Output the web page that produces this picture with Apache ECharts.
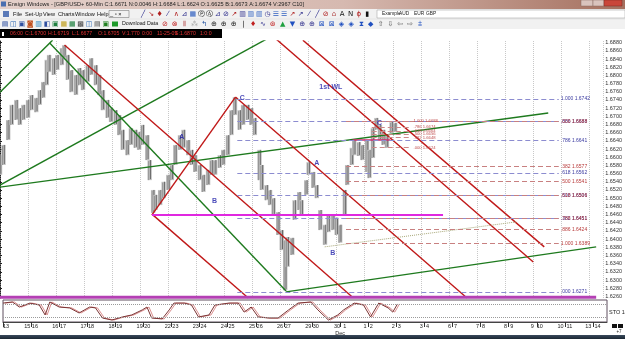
<!DOCTYPE html>
<html><head><meta charset="utf-8">
<script src="https://cdn.jsdelivr.net/npm/echarts@6/dist/echarts.min.js"></script>
<style>html,body{margin:0;padding:0;background:#fff;}#c{width:625px;height:339px;}</style>
</head><body><div id="c"></div>
<script>
// ---------- DATA ----------
// hourly axis: 0 = start of the visible window, 24 hours per trading day
const priceHours = [0,3,7,10,14,17,20,24,27,31,34,37,40,42,46,49,53,55,58,61,65,68,71,75,78,82,85,88,92,95,99,102,105,109,112,116,119,122,126,128,131,133,137,140,144,147,150,154,157,161,164,167,171,174,178,181,184,188,191,195,198,201,205,208,212,215,218,222,224,228,231,234,238,241,244,246,250,252,256,258,262,264,268,271,274,278,281,285,288,291,295,297,301,303,307,310,314,316,319,322,325,328,331,335,338];
const priceHigh = [
1.6605,1.6630,1.6691,1.6728,1.6740,1.6720,1.6728,1.6740,1.6752,1.6745,
1.6764,1.6784,1.6838,1.6850,1.6842,1.6850,1.6867,1.6874,1.6850,1.6813,
1.6801,1.6818,1.6813,1.6825,1.6842,1.6825,1.6801,1.6764,1.6740,1.6720,
1.6715,1.6703,1.6667,1.6642,1.6671,1.6667,1.6662,1.6679,1.6654,1.6593,
1.6520,1.6508,1.6520,1.6540,1.6557,1.6581,1.6630,1.6654,1.6667,1.6642,
1.6618,1.6605,1.6581,1.6557,1.6569,1.6593,1.6593,1.6605,1.6618,1.6654,
1.6715,1.6747,1.6715,1.6728,1.6728,1.6720,1.6696,1.6618,1.6581,1.6532,
1.6520,1.6500,1.6466,1.6422,1.6398,1.6405,1.6403,1.6495,1.6515,1.6495,
1.6544,1.6588,1.6564,1.6532,1.6471,1.6435,1.6459,1.6459,1.6452,1.6435,
1.6520,1.6581,1.6623,1.6642,1.6637,1.6630,1.6642,1.6618,1.6671,1.6696,
1.6679,1.6667,1.6654,1.6686,1.6684];
const priceLow = [
1.6557,1.6581,1.6642,1.6679,1.6691,1.6679,1.6691,1.6696,1.6715,1.6710,
1.6728,1.6745,1.6776,1.6808,1.6801,1.6813,1.6825,1.6842,1.6789,1.6759,
1.6752,1.6776,1.6764,1.6784,1.6801,1.6776,1.6752,1.6715,1.6696,1.6686,
1.6679,1.6654,1.6618,1.6605,1.6630,1.6623,1.6618,1.6630,1.6593,1.6544,
1.6464,1.6471,1.6483,1.6500,1.6520,1.6544,1.6581,1.6618,1.6623,1.6605,
1.6581,1.6564,1.6544,1.6515,1.6532,1.6557,1.6557,1.6574,1.6581,1.6605,
1.6654,1.6703,1.6667,1.6679,1.6691,1.6679,1.6654,1.6544,1.6520,1.6495,
1.6483,1.6459,1.6410,1.6373,1.6275,1.6332,1.6361,1.6447,1.6471,1.6459,
1.6508,1.6557,1.6525,1.6500,1.6422,1.6386,1.6417,1.6422,1.6410,1.6391,
1.6459,1.6532,1.6581,1.6605,1.6603,1.6593,1.6564,1.6549,1.6598,1.6667,
1.6642,1.6630,1.6623,1.6659,1.6662];
const currentPrice = 1.6671;

const stochHours = [0,8,14,23,31,36,40,48,57,65,74,79,85,93,102,110,119,123,127,136,142,146,155,161,167,176,181,193,201,206,212,218,227,235,244,252,263,269,278,286,291,300,308,314,321,329,333,337];
const stochValues = [86,91,68,86,77,32,91,68,64,41,68,64,18,9,23,32,55,68,18,14,55,86,86,77,23,32,77,86,86,45,68,23,18,18,55,86,91,55,9,32,55,86,77,23,86,64,45,82];
const stochLevels = [20, 80];

const xTickHours = [0,24,48,72,96,120,144,168,192,216,240,264,288,312,336,360,384,408,432,456,480,504];
const xTickLabels = ['13','15 16','16 17','17 18','18 19','19 20','22 23','23 24','24 25','25 26','26 27','29 30','30  1\nDec','1  2','2  3','3  4','6  7','7  8','8  9','9  10','10  11','13  14'];
const yTickValues = [1.626,1.628,1.630,1.632,1.634,1.636,1.638,1.640,1.642,1.644,1.646,1.648,1.650,1.652,1.654,1.656,1.658,1.660,1.662,1.664,1.666,1.668,1.670,1.672,1.674,1.676,1.678,1.680,1.682,1.684,1.686,1.688];

// drawn tools: endpoints as [hour, price]
const greenLines = [
  [[0,1.6532],[229.5,1.6891]],
  [[0,1.6759],[45,1.6886]],
  [[42.5,1.6879],[244.7,1.6273]],
  [[244.7,1.6271],[510,1.6381]],
  [[0,1.6527],[469,1.6708]]
];
const redLines = [
  [[55.2,1.6874],[301.6,1.6258]],
  [[130,1.6459],[201.4,1.6747]],
  [[201.4,1.6747],[399.5,1.6256]],
  [[235.3,1.6891],[456.2,1.6344]],
  [[259.1,1.6886],[465.6,1.6381]],
  [[130,1.6461],[212.4,1.6256]]
];
const magentaLines = [
  [[130,1.6459],[379,1.6459]],
  [[301.6,1.6642],[333.9,1.6642]]
];
const baseLine = [[0,1.6258],[510,1.6258]];
const dottedLine = [[277.8,1.6381],[441.8,1.6442]];

const blueFibPrices = [1.6742,1.6688,1.6641,1.6562,1.6506,1.6451,1.6271];
const blueFibRatios = ['1.000','.886','.786','.618','.500','.382','.000'];
const blueFibSpan = [203,478];
const redFibPrices = [1.6688,1.6577,1.6541,1.6506,1.6451,1.6424,1.6389];
const redFibRatios = ['.000','.382','.500','.618','.786','.886','1.000'];
const redFibSpan = [296,478];
const smallFibPrices = [1.6688,1.6674,1.6664,1.6656,1.6648,1.6624];
const smallFibRatios = ['1.000','.786','.618','.500','.382','.000'];
const smallFibSpan = [318,352];

const waveLabels = ['A','B','C','A','B','C','1st WL'];
const waveHours = [155.5,183.5,207.3,271,284.6,324.6,283];
const wavePrices = [1.6649,1.6493,1.6745,1.6586,1.6366,1.6684,1.6772];

// ---------- CHART ----------
const FONT = 'Liberation Sans, Arial, sans-serif';
const chart = echarts.init(document.getElementById('c'), null, {renderer:'canvas'});

function lineSeries(pts, color, width, type) {
  return {type:'line', xAxisIndex:0, yAxisIndex:0, data:pts, symbol:'none', silent:true,
    animation:false, clip:true, lineStyle:{color:color, width:width, type:type||'solid'}, z:3};
}
function fibSeries(prices, ratios, span, lineColor, textColor, fs) {
  return {type:'line', xAxisIndex:0, yAxisIndex:0, data:[], silent:true, animation:false, z:2,
    markLine:{symbol:['none','none'], silent:true, animation:false,
      lineStyle:{color:lineColor, type:[5,3], width:1.1},
      label:{show:true, position:'end', distance:2, fontSize:fs, color:textColor, fontFamily:FONT},
      data: prices.map((p,i)=>[{coord:[span[0],p], label:{formatter: ratios[i]+' '+p.toFixed(4)}},{coord:[span[1],p]}])
    }};
}

const series = [];
series.push({
  type:'custom', xAxisIndex:0, yAxisIndex:0, silent:true, animation:false, z:2,
  data: priceHours.map((h,i)=>[h, priceHigh[i], priceLow[i]]),
  encode:{x:0, y:[1,2]},
  renderItem:function(params, api){
    const h = api.value(0);
    const a = api.coord([h, api.value(1)]);
    const b = api.coord([h, api.value(2)]);
    const w = api.size([3.8,0])[0];
    return {type:'group', children:[
      {type:'rect', shape:{x:a[0]-w/2, y:a[1], width:w, height:Math.max(1,b[1]-a[1])}, style:{fill:'#c2c2c2'}},
      {type:'line', shape:{x1:a[0]-1, y1:a[1]+1, x2:a[0]-1, y2:b[1]}, style:{stroke:'#8a8a8a', lineWidth:0.8}},
      {type:'line', shape:{x1:a[0]+0.8, y1:a[1], x2:a[0]+0.8, y2:b[1]-1}, style:{stroke:'#5e5e5e', lineWidth:0.9}}
    ]};
  },
  markLine:{symbol:['none','none'], silent:true, animation:false,
    lineStyle:{width:0, opacity:0},
    label:{show:true, position:'end', distance:1,
      formatter:'{a|→}{b|'+currentPrice.toFixed(4)+'}',
      rich:{a:{fontSize:6, color:'#000', padding:[0,2,0,0], fontFamily:FONT},
            b:{fontSize:5.5, color:'#fff', backgroundColor:'#000', padding:[1,1,1,1], fontFamily:FONT}}},
    data:[[{coord:[506,currentPrice]},{coord:[507.5,currentPrice]}]]}
});
series.push(fibSeries(blueFibPrices, blueFibRatios, blueFibSpan, '#8c8cd0', '#3a3aa0', 5));
series.push(fibSeries(redFibPrices, redFibRatios, redFibSpan, '#c88080', '#b83a3a', 5));
series.push(fibSeries(smallFibPrices, smallFibRatios, smallFibSpan, '#cc8888', '#c05050', 4.2));
greenLines.forEach(l=>series.push(lineSeries(l, '#1e7a1e', 1.4)));
redLines.forEach(l=>series.push(lineSeries(l, '#c01818', 1.4)));
series.push(lineSeries(magentaLines[0], '#e028e0', 2));
series.push(lineSeries(magentaLines[1], '#d02a6a', 1.6));
series.push(lineSeries(baseLine, '#b440b4', 3));
series.push(lineSeries(dottedLine, '#a8a878', 1, 'dotted'));
series.push({type:'scatter', xAxisIndex:0, yAxisIndex:0, silent:true, animation:false, z:5,
  data: waveHours.map((h,i)=>[h, wavePrices[i], waveLabels[i]]),
  symbol:'circle', symbolSize:1, itemStyle:{color:'rgba(0,0,0,0)'},
  label:{show:true, position:'inside', formatter:p=>p.value[2], color:'#1c1ca8', fontWeight:'bold', fontSize:7, fontFamily:FONT}});
series.push({type:'line', xAxisIndex:1, yAxisIndex:1, silent:true, animation:false,
  data: stochHours.map((h,i)=>[h, stochValues[i]]), symbol:'none',
  lineStyle:{color:'#7a3434', width:1, shadowColor:'rgba(215,130,130,0.9)', shadowOffsetX:2, shadowBlur:0},
  markLine:{symbol:['none','none'], silent:true, animation:false, label:{show:false},
    lineStyle:{color:'#9a9a9a', type:'dotted', width:1},
    data: stochLevels.map(v=>({yAxis:v}))}});

// ---------- window chrome (decoration) ----------
const g = [];
g.push({type:'rect', shape:{x:0,y:0,width:625,height:9}, silent:true,
  style:{fill:{type:'linear',x:0,y:0,x2:1,y2:0,colorStops:[{offset:0,color:'#e4d0ca'},{offset:0.55,color:'#d6b9b0'},{offset:1,color:'#a5705f'}]}}});
g.push({type:'text', x:8, y:4.5, silent:true, style:{text:'Ensign Windows - [GBP/USD+ 60-Min C:1.6671 N:0.0046 H:1.6684 L:1.6624 O:1.6625 B:1.6673 A:1.6674 V:2967 C10]', fill:'#222', fontSize:5.6, fontFamily:FONT, verticalAlign:'middle'}});
g.push({type:'rect', shape:{x:1,y:1.5,width:5,height:5}, silent:true, style:{fill:'#4a6fb0'}});
g.push({type:'rect', shape:{x:581,y:0,width:12,height:6}, silent:true, style:{fill:'#d9c3bd', stroke:'#8a6a60', lineWidth:0.5}});
g.push({type:'rect', shape:{x:593,y:0,width:11,height:6}, silent:true, style:{fill:'#d9c3bd', stroke:'#8a6a60', lineWidth:0.5}});
g.push({type:'rect', shape:{x:604,y:0,width:18,height:6}, silent:true, style:{fill:'#c9463a', stroke:'#7a2a20', lineWidth:0.5}});
g.push({type:'rect', shape:{x:0,y:9,width:625,height:20}, silent:true, style:{fill:'#f1f1f1'}});
g.push({type:'line', shape:{x1:0,y1:19,x2:625,y2:19}, silent:true, style:{stroke:'#d8d8d8', lineWidth:0.5}});
const menu = [['File',13],['Set-Up',25],['View',43],['Charts',58],['Window',75],['Help',97]];
g.push({type:'rect', shape:{x:3,y:11,width:6,height:6}, silent:true, style:{fill:'#5a7ab8'}});
menu.forEach(m=>g.push({type:'text', x:m[1], y:14.2, silent:true, style:{text:m[0], fill:'#111', fontSize:5.6, fontFamily:FONT, verticalAlign:'middle'}}));
g.push({type:'text', x:110, y:14.2, silent:true, style:{text:'_ ▫ ×', fill:'#111', fontSize:5.6, fontFamily:FONT, verticalAlign:'middle'}});
g.push({type:'rect', shape:{x:109,y:10.5,width:20,height:7}, silent:true, style:{fill:'none', stroke:'#666', lineWidth:0.5}});
const row1 = '╱↘♦⁄∧⊿▦ⓅⒶ⊿⊘↗▥▥▥◷☰☰↗↗⁄╱⊘⌂ANϕ▮'.split('');
const row1c = ['#2a2a8a','#b02020','#b02020','#2a2a8a','#b02020','#2a2a8a','#3060c0','#111','#111','#2a2a8a','#2a2a8a','#b02020','#2a2a8a','#3060c0','#3060c0','#2a2a8a','#3060c0','#3060c0','#b02020','#2a2a8a','#2a2a8a','#2a2a8a','#b02020','#b04040','#111','#111','#b02020','#111'];
row1.forEach((c,i)=>g.push({type:'text', x:143+i*8.3, y:14.2, silent:true, style:{text:c, fill:row1c[i], fontSize:7, fontFamily:'DejaVu Sans', align:'center', verticalAlign:'middle'}}));
g.push({type:'rect', shape:{x:377,y:10,width:248,height:8}, silent:true, style:{fill:'#fff', stroke:'#9a9a9a', lineWidth:0.5}});
[['Example',382],['AUD',399],['EUR',414],['GBP',426]].forEach(t=>g.push({type:'text', x:t[1], y:14, silent:true, style:{text:t[0], fill:'#222', fontSize:4.8, fontFamily:FONT, verticalAlign:'middle'}}));
const row2a = '▤◫▣◙▥◧▣▦▦▩◫▤▣'.split('');
const row2ac = ['#3050a0','#2060b0','#3050a0','#c05020','#2080c0','#3050a0','#208040','#c0a020','#208040','#404040','#2060b0','#606060','#208020'];
row2a.forEach((c,i)=>g.push({type:'text', x:5+i*8.4, y:24, silent:true, style:{text:c, fill:row2ac[i], fontSize:7, fontFamily:'DejaVu Sans', align:'center', verticalAlign:'middle'}}));
g.push({type:'rect', shape:{x:112,y:21.5,width:6,height:5}, silent:true, style:{fill:'#1e9a2a'}});
g.push({type:'text', x:122, y:24, silent:true, style:{text:'Download Data', fill:'#111', fontSize:5.3, fontFamily:FONT, verticalAlign:'middle'}});
const row2b = '⊘⊗⦀⁂↰⊕⊕⊕|♦∿⊛▲▼⊕⊕⊠⊠◈◈⧗◆⇧⇩⇦⇨⩲'.split('');
const row2bc = ['#c02020','#c02020','#b04040','#aaaaaa','#2050a0','#222','#222','#222','#111','#c02020','#2a2a8a','#c02020','#20a040','#2050c0','#2a2a8a','#2a2a8a','#2050c0','#2050c0','#2050c0','#2050c0','#2050c0','#2050c0','#555','#555','#555','#555','#2050c0'];
row2b.forEach((c,i)=>g.push({type:'text', x:165+i*9.8, y:24, silent:true, style:{text:c, fill:row2bc[i], fontSize:7, fontFamily:'DejaVu Sans', align:'center', verticalAlign:'middle'}}));
g.push({type:'rect', shape:{x:0,y:29,width:222,height:9}, silent:true, style:{fill:'#000'}});
g.push({type:'rect', shape:{x:2,y:32,width:2,height:4}, silent:true, style:{fill:'#fff'}});
[['06:00',10],['C:1.6700',25],['H:1.6719',48],['L:1.6677',72],['O:1.6705',98],['V:1.770',122],['0:00',142],['11-25-09',157],['S:1.6870',175],['1:0:0',200]].forEach(t=>
  g.push({type:'text', x:t[1], y:33.5, silent:true, style:{text:t[0], fill:'#e03232', fontSize:5.2, fontFamily:FONT, verticalAlign:'middle'}}));
g.push({type:'text', x:609, y:312, silent:true, style:{text:'STO 14', fill:'#222', fontSize:5.5, fontFamily:FONT, verticalAlign:'middle'}});
g.push({type:'rect', shape:{x:612,y:324,width:5,height:4}, silent:true, style:{fill:'#111'}});
g.push({type:'rect', shape:{x:618,y:324,width:5,height:4}, silent:true, style:{fill:'#111'}});
g.push({type:'text', x:619, y:332, silent:true, style:{text:'+7', fill:'#222', fontSize:4.5, fontFamily:FONT, align:'center', verticalAlign:'middle'}});
g.push({type:'rect', shape:{x:0,y:335,width:625,height:4}, silent:true,
  style:{fill:{type:'linear',x:0,y:0,x2:0,y2:1,colorStops:[{offset:0,color:'#3a4a5c'},{offset:1,color:'#1a2632'}]}}});

const option = {
  animation:false,
  backgroundColor:'#fff',
  grid:[
    {left:0, right:18, top:41, height:257, show:false},
    {left:0, right:18, top:300, height:22, show:true, borderColor:'#5e4e5e', borderWidth:1, backgroundColor:'#fff'}
  ],
  xAxis:[
    {type:'value', gridIndex:0, min:0, max:516, interval:24,
      axisLabel:{show:false}, axisTick:{show:false}, axisLine:{show:false},
      splitLine:{show:true, lineStyle:{color:'#c8c8c8', type:'dotted', width:1}}},
    {type:'value', gridIndex:1, min:0, max:516,
      axisLine:{show:true, lineStyle:{color:'#444'}},
      axisTick:{show:true, customValues:xTickHours, length:5, lineStyle:{color:'#333'}},
      splitLine:{show:false},
      axisLabel:{show:true, customValues:xTickHours, margin:1, fontSize:5.5, lineHeight:7, color:'#222', fontFamily:FONT,
        alignMinLabel:'left', formatter:v=>{const i=xTickHours.indexOf(Math.round(v)); return i>=0?xTickLabels[i]:'';}}}
  ],
  yAxis:[
    {type:'value', gridIndex:0, position:'right', min:1.6256, max:1.6884,
      axisLine:{show:true, lineStyle:{color:'#222', type:'dotted'}},
      axisTick:{show:true, customValues:yTickValues, length:2, lineStyle:{color:'#222'}},
      splitLine:{show:false},
      axisLabel:{show:true, customValues:yTickValues, margin:2, fontSize:5.5, color:'#333', fontFamily:FONT, formatter:v=>v.toFixed(4)}},
    {type:'value', gridIndex:1, min:0, max:100, show:true,
      axisLabel:{show:false}, axisTick:{show:false}, axisLine:{show:false}, splitLine:{show:false}}
  ],
  graphic: g,
  series: series
};
chart.setOption(option);
</script>
</body></html>
